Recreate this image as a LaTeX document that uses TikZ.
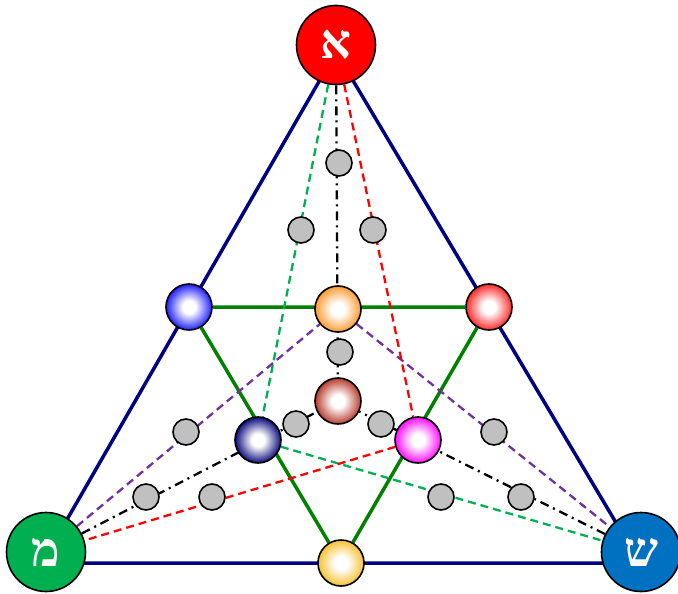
\documentclass[tikz,border=0pt]{standalone}
\usepackage{fontspec}
\newfontfamily\hebfont[Script=Hebrew]{Liberation Serif}
\TeXXeTstate=1
\usetikzlibrary{backgrounds}
\definecolor{navyc}{RGB}{0,0,128}
\definecolor{grn}{RGB}{0,128,0}
\definecolor{dgrn}{RGB}{0,176,80}
\definecolor{purp}{RGB}{112,48,160}
\definecolor{shinc}{RGB}{0,112,192}
\definecolor{memc}{RGB}{0,176,80}
\definecolor{grayc}{RGB}{192,192,192}
\definecolor{orangec}{RGB}{255,150,40}
\definecolor{brownc}{RGB}{180,50,35}
\definecolor{goldc}{RGB}{245,190,40}
\definecolor{redsc}{RGB}{255,30,30}
\definecolor{bluesc}{RGB}{20,20,255}
\definecolor{navysc}{RGB}{0,0,120}
\definecolor{magc}{RGB}{255,0,255}
\colorlet{sphcol}{blue}
\pgfdeclareradialshading[sphcol]{sphere}{\pgfpoint{0bp}{0bp}}{color(0bp)=(white); color(7bp)=(white); color(26bp)=(sphcol); color(50bp)=(sphcol)}
\tikzset{
  big/.style={circle, draw=black, line width=1.6pt, minimum size=79pt, inner sep=0pt, text=white, font=\hebfont\bfseries\fontsize{48}{48}\selectfont},
  sph/.style={circle, draw=black, line width=1.6pt, minimum size=46pt, inner sep=0pt, /utils/exec={\colorlet{sphcol}{#1}}, shading=sphere},
  gry/.style={circle, draw=black, fill=grayc, line width=1.6pt, minimum size=26pt, inner sep=0pt},
  outer/.style={navyc, line width=3.5pt},
  inner/.style={grn, line width=3.5pt},
  dsh/.style={line width=2.3pt, dash pattern=on 8pt off 5pt},
  dd/.style={black, line width=2.3pt, dash pattern=on 9pt off 5pt on 2pt off 5pt},
}
\begin{document}
\begin{tikzpicture}[x=1pt,y=-1pt]
\useasboundingbox (0,0) rectangle (678,594);
% main nodes
\node[big, fill=red] (A) at (336,45) {\beginR א\endR};
\node[big, fill=memc] (M) at (46,552) {\beginR מ\endR};
\node[big, fill=shinc] (S) at (641,552) {\beginR ש\endR};
% spheres
\node[sph=bluesc] (bl) at (189,307) {};
\node[sph=redsc] (rd) at (489,307) {};
\node[sph=goldc] (yl) at (341,563) {};
\node[sph=orangec] (or) at (338,309) {};
\node[sph=brownc] (br) at (338,401) {};
\node[sph=navysc] (db) at (258,440) {};
\node[sph=magc] (mg) at (418,440) {};
% gray circles
\node[gry] (g1) at (339,163) {};
\node[gry] (g2) at (301,230) {};
\node[gry] (g3) at (373,230) {};
\node[gry] (g4) at (340,352) {};
\node[gry] (g5) at (186,432) {};
\node[gry] (g6) at (296,424) {};
\node[gry] (g7) at (381,424) {};
\node[gry] (g8) at (494,432) {};
\node[gry] (g9) at (146,497) {};
\node[gry] (g10) at (212,497) {};
\node[gry] (g11) at (441,497) {};
\node[gry] (g12) at (521,497) {};
\begin{scope}[on background layer]
\coordinate (vA) at (336,52);
\coordinate (vM) at (42,563);
\coordinate (vS) at (640,563);
\draw[outer, line join=round] (vA) -- (vM) -- (vS) -- cycle;
\draw[inner] (bl) -- (rd) -- (yl) -- (bl);
\draw[dsh, purp] (M) -- (or) -- (S);
\draw[dsh, dgrn] (A) -- (db) -- (S);
\draw[dsh, red] (A) -- (mg) -- (M);
\draw[dd] (A) -- (br);
\draw[dd] (M) -- (br);
\draw[dd] (S) -- (br);
\end{scope}
\end{tikzpicture}
\end{document}
